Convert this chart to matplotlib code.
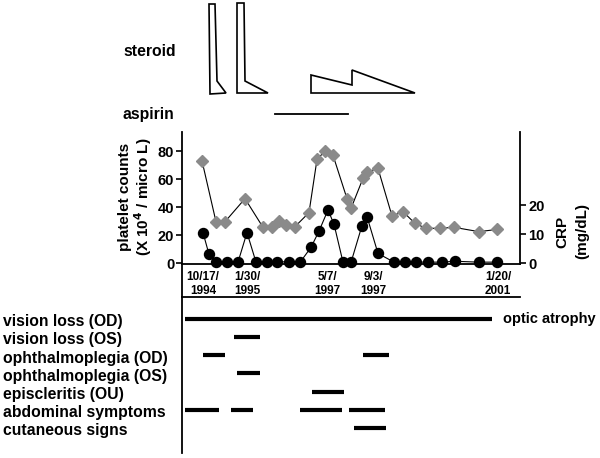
import matplotlib
matplotlib.use("Agg")
import matplotlib.pyplot as plt
from matplotlib.lines import Line2D
from matplotlib.patches import Polygon
from matplotlib.transforms import blended_transform_factory

plt.rcParams["font.family"] = ["Liberation Sans", "DejaVu Sans"]
plt.rcParams["font.weight"] = "bold"
plt.rcParams["mathtext.default"] = "bf"

W, H = 600, 458

# position along the case history (schematic timeline units)
plt_x = [20, 34, 43, 63, 81, 90, 97, 104, 113, 127, 135, 143, 151, 165, 169,
         181, 185, 196, 210, 221, 233, 244, 258, 272, 297, 315]
plt_val = [73, 29.5, 29.5, 46, 25.5, 26, 30, 27, 26, 36, 74, 80, 77, 46, 39,
           60.5, 65, 67.6, 33.6, 36.7, 28.3, 24.8, 24.8, 25.5, 22.4, 24]

crp_x = [21, 27, 34, 45, 56, 65, 74, 85, 95, 107, 118, 129, 137, 146, 152, 161,
         169, 180, 185, 196, 212, 223, 234, 246, 260, 273, 297, 315]
crp_val = [10.5, 3, 0.3, 0.3, 0.3, 10.5, 0.3, 0.2, 0.3, 0.5, 0.2, 5.4, 11, 18.3,
           13.4, 0.3, 0.2, 12.9, 16, 3.3, 0.3, 0.3, 0.3, 0.3, 0.3, 0.6, 0.3, 0.3]

date_x = [21, 65, 145, 191, 316]
date_labels = ["10/17/\n1994", "1/30/\n1995", "5/7/\n1997", "9/3/\n1997", "1/20/\n2001"]

# steroid dose courses (schematic outline: x, relative dose)
steroid_courses = [
    [(28, -1), (27, 89), (33, 89), (35, 12), (44, 0)],
    [(55, 0), (55, 90), (62, 90), (63, 12), (86, 0)],
    [(129, 0), (129, 18), (170, 8), (170, 23), (233, 0)],
]
aspirin_span = (93, 166)

symptoms = ["vision loss (OD)", "vision loss (OS)", "ophthalmoplegia (OD)",
            "ophthalmoplegia (OS)", "episcleritis (OU)", "abdominal symptoms",
            "cutaneous signs"]
symptom_spans = [
    [(3, 310)],
    [(52, 78)],
    [(21, 43), (181, 207)],
    [(55, 78)],
    [(130, 162)],
    [(3, 37), (49, 71), (118, 160), (167, 203)],
    [(172, 204)],
]


def fx(px):
    return px / W


def fy(py):
    return 1 - py / H


fig = plt.figure(figsize=(6, 4.58), dpi=100)

# ---- lab values
ax = fig.add_axes([fx(182), fy(264), 338 / W, 132 / H])
ax.plot(plt_x, plt_val, color="black", lw=0.8, marker="D", ms=6.6,
        mfc="#8a8a8a", mec="#8a8a8a", clip_on=False, zorder=3)
ax.set_xlim(0, 338)
ax.set_ylim(-0.7, 93.6)
ax.set_yticks([0, 20, 40, 60, 80])
ax.set_xticks([])
ax.tick_params(axis="y", length=4, width=1.2, pad=1.5, labelsize=10.5)
for s in ["top", "right"]:
    ax.spines[s].set_visible(False)
for s in ["left", "bottom"]:
    ax.spines[s].set_linewidth(1.3)

ax2 = ax.twinx()
ax2.plot(crp_x, crp_val, color="black", lw=0.8, marker="o", ms=7.2,
         mfc="black", mec="black", clip_on=False, zorder=3)
ax2.set_ylim(-0.34, 45.2)
ax2.set_yticks([0, 10, 20])
ax2.tick_params(axis="y", length=4, width=1.2, pad=2, labelsize=10.5)
for s in ["top", "left", "bottom"]:
    ax2.spines[s].set_visible(False)
ax2.spines["right"].set_linewidth(1.3)

tr = blended_transform_factory(ax.transData, fig.transFigure)
for x, lab in zip(date_x, date_labels):
    ax.text(x, fy(284), lab, transform=tr, ha="center", va="center",
            fontsize=8.5, linespacing=1.15)

fig.text(fx(125), fy(197), "platelet counts", rotation=90, ha="center",
         va="center", fontsize=11)
fig.text(fx(143.5), fy(197), "(X 10$^{4}$ / micro L)", rotation=90, ha="center",
         va="center", fontsize=11)
fig.text(fx(562), fy(232), "CRP", rotation=90, ha="center", va="center",
         fontsize=11)
fig.text(fx(582), fy(231), "(mg/dL)", rotation=90, ha="center", va="center",
         fontsize=11)

# ---- treatments
axt = fig.add_axes([fx(182), fy(125), 338 / W, 125 / H], sharex=ax)
axt.set_ylim(-32, 93)
axt.axis("off")
for course in steroid_courses:
    axt.add_patch(Polygon(course, closed=True, fill=False, ec="black", lw=1.2,
                          joinstyle="miter"))
axt.plot(aspirin_span, [-21, -21], color="black", lw=1.3)
fig.text(fx(123), fy(52), "steroid", ha="left", va="center", fontsize=11.3)
fig.text(fx(123), fy(114), "aspirin", ha="left", va="center", fontsize=11.3)

# ---- symptoms timeline
axb = fig.add_axes([fx(182), fy(453), 338 / W, 156 / H], sharex=ax)
axb.set_ylim(7.23, -1.36)
axb.set_xticks([])
axb.set_yticks([])
for s in ["right", "bottom"]:
    axb.spines[s].set_visible(False)
for s in ["top", "left"]:
    axb.spines[s].set_linewidth(1.3)
trb = blended_transform_factory(fig.transFigure, axb.transData)
for i, (name, spans) in enumerate(zip(symptoms, symptom_spans)):
    for x0, x1 in spans:
        axb.plot([x0, x1], [i - 0.15, i - 0.15], color="black", lw=3,
                 solid_capstyle="butt")
    axb.text(fx(3), i, name, transform=trb, ha="left", va="center",
             fontsize=11.3)
axb.text(fx(503), -0.15, "optic atrophy", transform=trb, ha="left",
         va="center", fontsize=10.5)

fig.add_artist(Line2D([fx(182), fx(182)], [fy(264), fy(297)], color="black",
                      lw=1.3))

fig.savefig("out.png", dpi=100)
